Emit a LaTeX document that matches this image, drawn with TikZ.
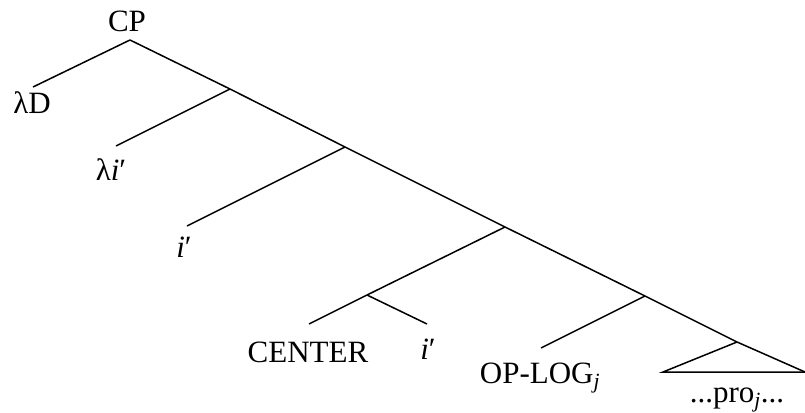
\documentclass[tikz,border=0pt]{standalone}
\usepackage{fontspec}
\setmainfont{Liberation Serif}
\begin{document}
\begin{tikzpicture}[x=1pt,y=-1pt,
  edge/.style={line width=1.5pt, line cap=butt},
  lab/.style={inner sep=0pt, anchor=base, font=\fontsize{31}{37}\selectfont}]
\useasboundingbox (0,0) rectangle (805,412);
% tree points
\coordinate (r) at (130,40);
\coordinate (dE) at (33,87);
\coordinate (n1) at (230,89);
\coordinate (liE) at (116,146);
\coordinate (n2) at (345,147);
\coordinate (i1E) at (187,226);
\coordinate (n3) at (505,227);
\coordinate (c) at (367,295);
\coordinate (ceE) at (309,324);
\coordinate (ieE) at (427,324);
\coordinate (n4) at (645,296);
\coordinate (opE) at (541,348);
\coordinate (a) at (737,342);
\coordinate (bl) at (663,372);
\coordinate (br) at (805,372);
% labels
\node[lab] (cp) at (127,32) {CP};
\node[lab] (ld) at (32,113) {λD};
\node[lab] (li) at (111,180) {λ\textit{i}′};
\node[lab] (i1) at (184,257) {\textit{i}′};
\node[lab] (ce) at (308,362) {CENTER};
\node[lab] (i2) at (428,359) {\textit{i}′};
\node[lab] (op) at (540,383) {OP-LOG\textsubscript{\textit{j}}};
\node[lab] (pro) at (737,402) {...pro\textsubscript{\textit{j}}...};
% edges
\draw[edge] (r) -- (n1) -- (n2) -- (n3) -- (n4) -- (a) -- (br);
\draw[edge] (r) -- (dE);
\draw[edge] (n1) -- (liE);
\draw[edge] (n2) -- (i1E);
\draw[edge] (n3) -- (c);
\draw[edge] (c) -- (ceE);
\draw[edge] (c) -- (ieE);
\draw[edge] (n4) -- (opE);
\draw[edge] (a) -- (bl) -- (br);
\end{tikzpicture}
\end{document}
